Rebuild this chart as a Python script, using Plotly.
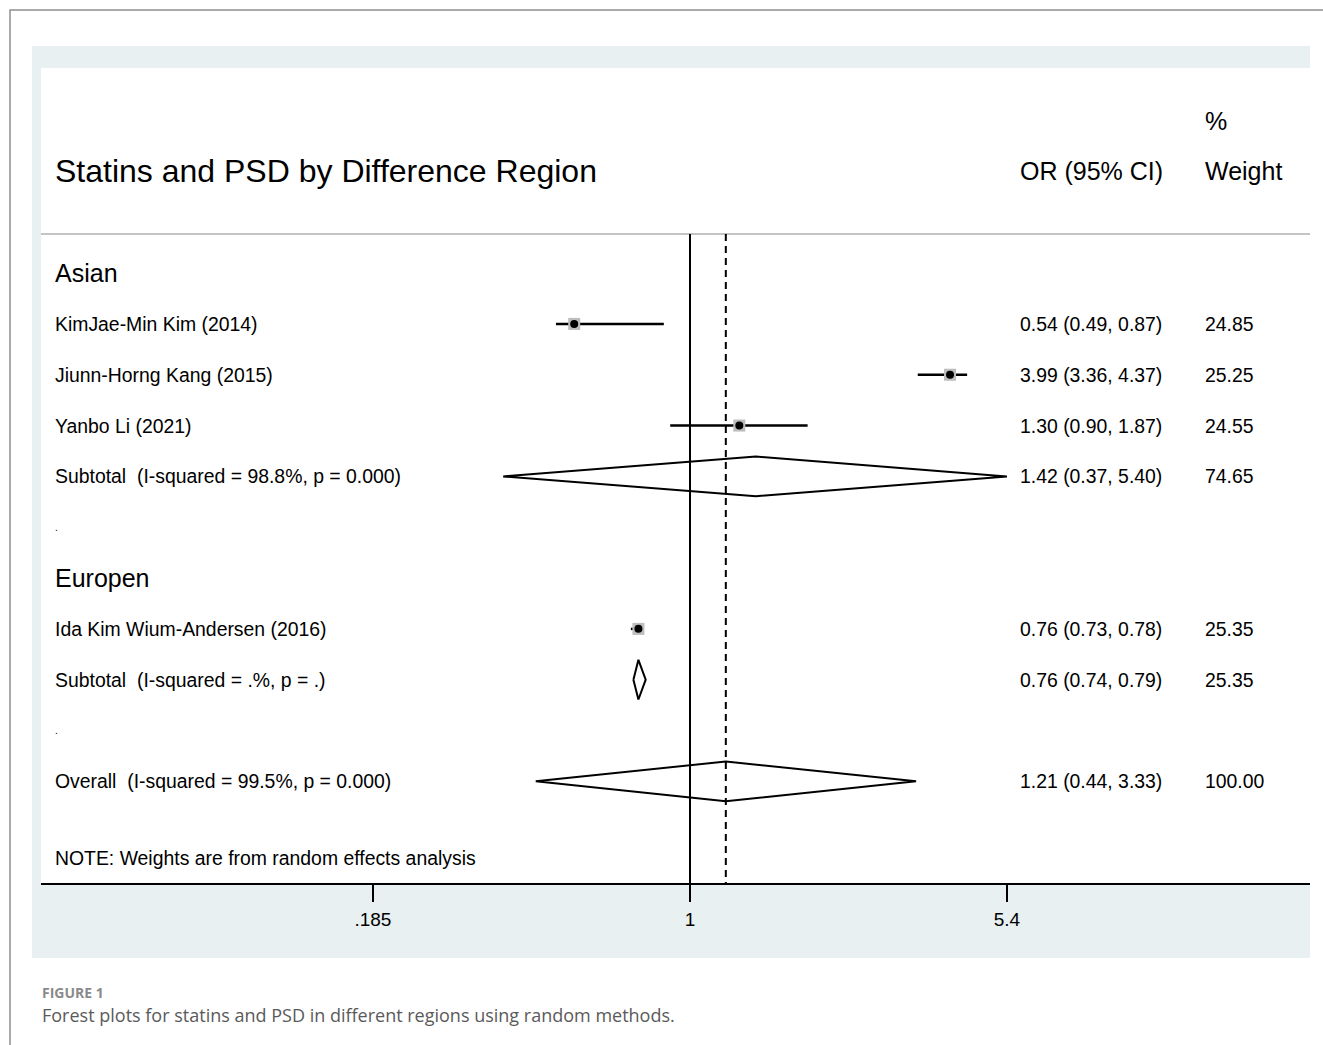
import plotly.graph_objects as go

# ---------------- data ----------------
study_labels = ["KimJae-Min Kim (2014)", "Jiunn-Horng Kang (2015)", "Yanbo Li (2021)",
                "Ida Kim Wium-Andersen (2016)"]
study_or = [0.54, 3.99, 1.30, 0.76]
study_lo = [0.49, 3.36, 0.90, 0.73]
study_hi = [0.87, 4.37, 1.87, 0.78]
study_wt = [24.85, 25.25, 24.55, 25.35]
study_row = [1, 2, 3, 7]

pool_labels = ["Subtotal\u00a0 (I-squared = 98.8%, p = 0.000)",
               "Subtotal\u00a0 (I-squared = .%, p = .)",
               "Overall\u00a0 (I-squared = 99.5%, p = 0.000)"]
pool_or = [1.42, 0.76, 1.21]
pool_lo = [0.37, 0.74, 0.44]
pool_hi = [5.40, 0.79, 3.33]
pool_wt = [74.65, 25.35, 100.00]
pool_row = [4, 8, 10]

group_labels = ["Asian", "Europen"]
group_row = [0, 6]
blank_row = [5, 9]

tick_vals = [0.185, 1, 5.4]
tick_text = [".185", "1", "5.4"]

title_text = "Statins and PSD by Difference Region"
note_text = "NOTE: Weights are from random effects analysis"

# ---------------- geometry ----------------
W, H = 1323, 1045
ML, MR, MT, MB = 41, 13, 68, 162
PW, PH = W - ML - MR, H - MT - MB


def px(x):
    return (x - ML) / PW


def py(y):
    return (H - MB - y) / PH


ROW_TOP, ROW_BOTTOM = -4.035, 12.0
HEADER_LINE = -0.77
DIAM_H = 0.39
FONT = "Liberation Sans, Arial, sans-serif"

fig = go.Figure()

# CI lines
cx, cy = [], []
for lo, hi, r in zip(study_lo, study_hi, study_row):
    cx += [lo, hi, None]
    cy += [r, r, None]
fig.add_trace(go.Scatter(x=cx, y=cy, mode="lines", line=dict(color="black", width=2.5),
                         hoverinfo="skip"))
# weight boxes
fig.add_trace(go.Scatter(x=study_or, y=study_row, mode="markers",
                         marker=dict(symbol="square", size=12, color="#bdbdbd"),
                         hoverinfo="skip"))
fig.add_trace(go.Scatter(x=study_or, y=study_row, mode="markers",
                         marker=dict(symbol="circle", size=8, color="black"),
                         hoverinfo="skip"))
# diamonds
dx, dy = [], []
for lo, est, hi, r in zip(pool_lo, pool_or, pool_hi, pool_row):
    dx += [lo, est, hi, est, lo, None]
    dy += [r, r - DIAM_H, r, r + DIAM_H, r, None]
fig.add_trace(go.Scatter(x=dx, y=dy, mode="lines", line=dict(color="black", width=2),
                         hoverinfo="skip"))

shapes = [
    # outer frame
    dict(type="rect", xref="paper", yref="paper", x0=px(10), x1=px(1340), y0=py(10), y1=py(1060),
         line=dict(color="#8f8f8f", width=1.5), fillcolor="rgba(0,0,0,0)", layer="below"),
    # light blue panel
    dict(type="rect", xref="paper", yref="paper", x0=px(32), x1=px(1310), y0=py(46), y1=py(958),
         line=dict(width=0), fillcolor="#e8f0f2", layer="below"),
    # inner white area
    dict(type="rect", xref="paper", yref="paper", x0=0, x1=1, y0=0, y1=1,
         line=dict(width=0), fillcolor="white", layer="below"),
    # header separator
    dict(type="line", xref="paper", yref="y", x0=0, x1=1, y0=HEADER_LINE, y1=HEADER_LINE,
         line=dict(color="#c4c4c4", width=2)),
    # null line
    dict(type="line", xref="x", yref="y", x0=1, x1=1, y0=HEADER_LINE, y1=ROW_BOTTOM,
         line=dict(color="black", width=2)),
    # overall estimate line
    dict(type="line", xref="x", yref="y", x0=pool_or[-1], x1=pool_or[-1], y0=HEADER_LINE,
         y1=ROW_BOTTOM, line=dict(color="black", width=2, dash="7px,5px")),
]

ann = []


def txt(x, y, s, size=19.4, color="black", font=FONT, yref="y", xanchor="left"):
    ann.append(dict(x=x, y=y, xref="paper", yref=yref, text=s, showarrow=False,
                    xanchor=xanchor, yanchor="middle", borderpad=0,
                    font=dict(size=size, color=color, family=font)))


XL, XOR, XW = px(54), px(1019), px(1204)
txt(XL, -2, title_text, size=32)
txt(XOR, -2, "OR (95% CI)", size=25)
txt(XW, -3, "%", size=25)
txt(XW, -2, "Weight", size=25)

for g, r in zip(group_labels, group_row):
    txt(XL, r, g, size=25)
for r in blank_row:
    txt(XL, r, ".", size=10)

for lab, o, lo, hi, w, r in zip(study_labels + pool_labels, study_or + pool_or,
                                study_lo + pool_lo, study_hi + pool_hi,
                                study_wt + pool_wt, study_row + pool_row):
    txt(XL, r, lab)
    txt(XOR, r, f"{o:.2f} ({lo:.2f}, {hi:.2f})")
    txt(XW, r, f"{w:.2f}")

txt(XL, 11.5, note_text)

# caption
txt(px(41), py(992), "<b>FIGURE 1</b>", size=14, color="#8a8a8a", font="Open Sans, sans-serif",
    yref="paper")
txt(px(41), py(1015), "Forest plots for statins and PSD in different regions using random methods.",
    size=18, color="#5a5a5a", font="Open Sans, sans-serif", yref="paper")

fig.update_layout(
    width=W, height=H,
    margin=dict(l=ML, r=MR, t=MT, b=MB, pad=0),
    paper_bgcolor="white", plot_bgcolor="rgba(0,0,0,0)",
    showlegend=False, hovermode=False,
    shapes=shapes, annotations=ann,
    xaxis=dict(type="log", range=[-1.4999, 1.4329], showgrid=False, zeroline=False,
               showline=True, linecolor="black", linewidth=2, ticks="outside", ticklen=17,
               tickwidth=2, tickcolor="black", tickvals=tick_vals, ticktext=tick_text,
               tickfont=dict(size=19, color="black", family=FONT), ticklabelstandoff=1,
               fixedrange=True),
    yaxis=dict(range=[ROW_BOTTOM, ROW_TOP], visible=False, fixedrange=True),
)

fig.write_html("out.html", config={"displayModeBar": False},
               post_script="document.body.style.margin='0';document.body.style.overflow='hidden';")
